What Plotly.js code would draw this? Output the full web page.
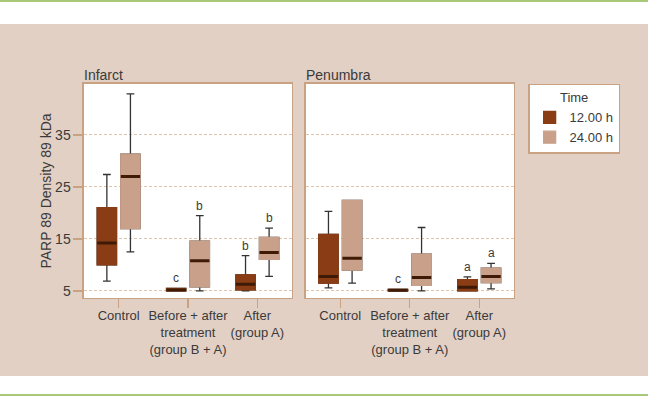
<!DOCTYPE html>
<html>
<head>
<meta charset="utf-8">
<script src="https://cdn.plot.ly/plotly-3.0.1.min.js"></script>
<style>
  html, body { margin: 0; padding: 0; background: #ffffff; }
  #wrap { position: relative; width: 648px; height: 396px; overflow: hidden; background: #ffffff; }
  #topline { position: absolute; left: 0; top: 0; width: 648px; height: 2px; background: #a9c97a; }
  #band { position: absolute; left: 0; top: 24px; width: 648px; height: 352px; background: #e2d0c4; }
  #botline { position: absolute; left: 0; top: 394px; width: 648px; height: 2px; background: #a9c97a; }
  #chart { position: absolute; left: 0; top: 0; width: 648px; height: 396px; }
</style>
</head>
<body>
<div id="wrap">
  <div id="topline"></div>
  <div id="band"></div>
  <div id="botline"></div>
  <div id="chart"></div>
</div>
<script>
// ---- Data ----
const categories = ["Control", "Before + after<br>treatment<br>(group B + A)", "After<br>(group A)"];
const seriesNames = ["12.00 h", "24.00 h"];

// Infarct panel
const infarct12_lower  = [6.9, 5.0, 5.0];
const infarct12_q1     = [10.0, 5.0, 5.2];
const infarct12_median = [14.2, 5.2, 6.3];
const infarct12_q3     = [21.0, 5.5, 8.1];
const infarct12_upper  = [27.4, 5.5, 11.8];

const infarct24_lower  = [12.5, 5.0, 7.8];
const infarct24_q1     = [17.0, 5.8, 11.1];
const infarct24_median = [27.0, 10.8, 12.4];
const infarct24_q3     = [31.3, 14.6, 15.3];
const infarct24_upper  = [42.9, 19.5, 17.1];

// Penumbra panel
const penumbra12_lower  = [5.6, 5.0, 5.0];
const penumbra12_q1     = [6.5, 5.0, 5.0];
const penumbra12_median = [7.8, 5.15, 5.7];
const penumbra12_q3     = [15.9, 5.3, 7.2];
const penumbra12_upper  = [20.3, 5.3, 7.7];

const penumbra24_lower  = [6.5, 5.0, 5.4];
const penumbra24_q1     = [9.0, 6.1, 6.6];
const penumbra24_median = [11.3, 7.6, 7.8];
const penumbra24_q3     = [22.4, 12.1, 9.4];
const penumbra24_upper  = [22.4, 17.2, 10.3];

// Significance letters (category index, series index, letter)
const infarctLetters  = [[1, 0, "c"], [1, 1, "b"], [2, 0, "b"], [2, 1, "b"]];
const penumbraLetters = [[1, 0, "c"], [2, 0, "a"], [2, 1, "a"]];

const yTickVals = [5, 15, 25, 35];
const panelTitles = ["Infarct", "Penumbra"];
const yTitle = "PARP 89 Density 89 kDa";
const legendTitle = "Time";

// ---- Styling ----
const fills = ["#8a3d14", "#c9a18a"];
const medianColor = "#3e1a07";
const whiskerColor = "#333333";
const frameColor = "#c9a283";
const gridColor = "#e0c5ab";
const textColor = "#3a3a3a";
const FONT = "Liberation Sans, Arial, sans-serif";
const BOXGAP = 0.32, BOXGROUPGAP = 0.18;

const panels = [
  {xa: "x", ya: "y", s: [
    {lower: infarct12_lower, q1: infarct12_q1, med: infarct12_median, q3: infarct12_q3, upper: infarct12_upper},
    {lower: infarct24_lower, q1: infarct24_q1, med: infarct24_median, q3: infarct24_q3, upper: infarct24_upper}],
   letters: infarctLetters},
  {xa: "x2", ya: "y2", s: [
    {lower: penumbra12_lower, q1: penumbra12_q1, med: penumbra12_median, q3: penumbra12_q3, upper: penumbra12_upper},
    {lower: penumbra24_lower, q1: penumbra24_q1, med: penumbra24_median, q3: penumbra24_q3, upper: penumbra24_upper}],
   letters: penumbraLetters}
];

const traces = [];
const common = {type: "box", x: categories, boxpoints: false, hoverinfo: "skip"};
panels.forEach((p, pi) => {
  p.s.forEach((d, si) => {
    const og = "g" + si;
    // whiskers (dark)
    traces.push(Object.assign({}, common, {
      xaxis: p.xa, yaxis: p.ya, offsetgroup: og, name: seriesNames[si], legendgroup: og, showlegend: false,
      q1: d.q1, median: d.med, q3: d.q3, lowerfence: d.lower, upperfence: d.upper,
      fillcolor: fills[si], line: {color: whiskerColor, width: 1.3}, whiskerwidth: 0.4
    }));
    // box body without dark outline
    traces.push(Object.assign({}, common, {
      xaxis: p.xa, yaxis: p.ya, offsetgroup: og, name: seriesNames[si], legendgroup: og, showlegend: pi === 0,
      q1: d.q1, median: d.q1, q3: d.q3, lowerfence: d.q1, upperfence: d.q3,
      fillcolor: fills[si], line: {color: fills[si], width: 1.3}, whiskerwidth: 0
    }));
    // median bar
    traces.push(Object.assign({}, common, {
      xaxis: p.xa, yaxis: p.ya, offsetgroup: og, name: seriesNames[si], legendgroup: og, showlegend: false,
      q1: d.med, median: d.med, q3: d.med, lowerfence: d.med, upperfence: d.med,
      fillcolor: medianColor, line: {color: medianColor, width: 3}, whiskerwidth: 0
    }));
  });
});

const annotations = [];
const offset = 0.25 * (1 - BOXGAP);
panels.forEach((p, pi) => {
  annotations.push({
    xref: p.xa + " domain", yref: p.ya + " domain", x: 0, y: 1, xanchor: "left", yanchor: "bottom",
    text: panelTitles[pi], showarrow: false, font: {family: FONT, size: 14, color: textColor}, yshift: -1, xshift: -2
  });
  p.letters.forEach(([ci, si, t]) => {
    annotations.push({
      xref: p.xa, yref: p.ya, x: ci + (si === 0 ? -offset : offset), y: p.s[si].upper[ci],
      xanchor: "center", yanchor: "bottom", yshift: 1, text: t, showarrow: false,
      font: {family: FONT, size: 12, color: textColor}
    });
  });
});

const yRange = [3.65, 44.8];
const axX = (dom, anchor) => ({
  domain: dom, anchor: anchor, type: "category", range: [-0.5, 2.5],
  showline: true, mirror: true, linecolor: frameColor, linewidth: 1.5,
  ticks: "outside", ticklen: 9, tickcolor: frameColor, tickwidth: 1.3,
  ticklabelstandoff: -4,
  showgrid: false, zeroline: false, fixedrange: true,
  tickfont: {family: FONT, size: 13, color: textColor}
});
const axY = (anchor, labels) => ({
  domain: [0.2475, 0.7879], anchor: anchor, range: yRange,
  showline: true, mirror: true, linecolor: frameColor, linewidth: 1.5,
  tickvals: yTickVals, ticks: labels ? "outside" : "", ticklen: 9, tickcolor: frameColor, tickwidth: 1.3,
  showticklabels: labels, tickfont: {family: FONT, size: 14, color: textColor},
  showgrid: true, gridcolor: gridColor, griddash: "3px,2px", gridwidth: 1, zeroline: false, fixedrange: true
});

const layout = {
  width: 648, height: 396,
  margin: {l: 0, r: 0, t: 0, b: 0},
  paper_bgcolor: "rgba(0,0,0,0)", plot_bgcolor: "#ffffff",
  boxmode: "group", boxgap: BOXGAP, boxgroupgap: BOXGROUPGAP,
  xaxis: axX([0.1296, 0.4506], "y"),
  xaxis2: axX([0.4715, 0.7932], "y2"),
  yaxis: Object.assign(axY("x", true), {title: {text: yTitle, standoff: 0, font: {family: FONT, size: 14, color: textColor}}}),
  yaxis2: axY("x2", false),
  showlegend: true,
  legend: {
    x: 0.815, y: 0.788, xanchor: "left", yanchor: "top",
    bgcolor: "#ffffff", bordercolor: frameColor, borderwidth: 1.5,
    title: {text: legendTitle, side: "top center", font: {family: FONT, size: 13, color: textColor}},
    font: {family: FONT, size: 13, color: textColor},
    tracegroupgap: 0, itemwidth: 30
  },
  annotations: annotations
};

Plotly.newPlot("chart", traces, layout, {staticPlot: true, displayModeBar: false});
</script>
</body>
</html>
